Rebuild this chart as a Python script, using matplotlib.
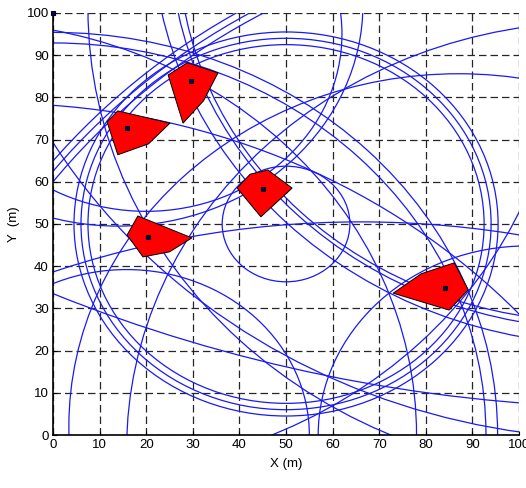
import numpy as np
import matplotlib.pyplot as plt
from matplotlib.patches import Circle, Polygon

plt.rcParams['font.family'] = ['Liberation Sans', 'DejaVu Sans']
plt.rcParams['font.size'] = 9.5

# blue circles: centre x, centre y, radius (m)
circ_cx = [50, 50, 50, 50, 87, 117, -20, 118.5, 120, 120, 120, 20, 14,
           120, 118, 116, 4.5, 101.7, 127.7, 122, 66, 0, 0, 15.8, -12]
circ_cy = [50, 50, 50, 50, 2, -3.3, 0, 101, -30, -30, -30, 95, 102,
           120, 118, 116, 95.7, 0, 321, 140, -139, 0, 0, 0, -72]
circ_r = [42.5, 44.0, 45.5, 13.7, 83.6, 101.2, 98, 111, 150, 151.5, 153, 42, 52.5,
          98.7, 92.9, 89.1, 104.7, 44.8, 314.6, 141, 189.5, 92.9, 95.4, 39.2, 150.6]

# red sensing regions (vertices, curved edges given by an extra point)
regions = [
    [(11.6, 74.2), (13.9, 76.8), (25.1, 73.9), (20.5, 69.0), (13.9, 66.4)],
    [(24.7, 85.3), (28.8, 88.2), (35.4, 85.8), (32.3, 79.2), (27.9, 73.9)],
    [(15.9, 47.4), (18.2, 51.9), (29.8, 46.7), (25.0, 43.4), (19.3, 42.2)],
    [(39.5, 58.5), (42.3, 61.8), (46.1, 62.8), (51.3, 58.5), (44.6, 51.7)],
    [(73.0, 33.6), (79.0, 38.2), (86.1, 40.8), (89.1, 34.4), (85.0, 29.6)],
]
node_x = [15.9, 29.6, 20.4, 45.1, 84.1, 0]
node_y = [72.7, 83.9, 46.9, 58.3, 34.8, 100]

fig = plt.figure(figsize=(5.26, 4.88), dpi=100)
ax = fig.add_axes([0.1008, 0.1086, 0.886, 0.8648])

for cx, cy, r in zip(circ_cx, circ_cy, circ_r):
    ax.add_patch(Circle((cx, cy), r, fill=False, ec=(0.1, 0.1, 0.95), lw=0.9, zorder=2))

for pts in regions:
    ax.add_patch(Polygon(pts, closed=True, fc='red', ec='black', lw=0.7, zorder=3))

ax.plot(node_x, node_y, 's', ms=3.5, mfc='#000080', mec='black', mew=0.8, zorder=4, clip_on=False)

ax.set_xlim(0, 100)
ax.set_ylim(0, 100)
ax.set_xticks(np.arange(0, 101, 10))
ax.set_yticks(np.arange(0, 101, 10))
ax.grid(True, color='0.15', lw=0.9, linestyle=(0, (6, 3.2)), zorder=1)
ax.set_axisbelow(True)
for s in ['top', 'right']:
    ax.spines[s].set_visible(False)
for s in ['left', 'bottom']:
    ax.spines[s].set_linewidth(1.2)
ax.tick_params(direction='in', length=3, width=0.8, pad=3)
ax.set_xlabel('X (m)', labelpad=5)
ax.set_ylabel('Y  (m)', labelpad=5)

fig.savefig('out.png', dpi=100)
